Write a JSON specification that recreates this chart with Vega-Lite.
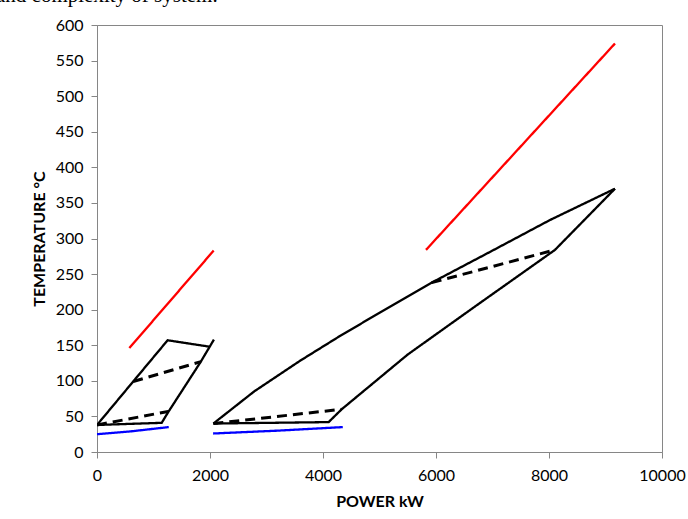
{
  "$schema": "https://vega.github.io/schema/vega-lite/v6.json",
  "autosize": "none",
  "width": 565,
  "height": 427,
  "padding": {"left": 97, "top": 25, "right": 26, "bottom": 67},
  "background": "white",
  "title": {
    "text": "and complexity of system.",
    "font": "Liberation Serif",
    "fontSize": 21,
    "fontWeight": "normal",
    "color": "#000000",
    "anchor": "start",
    "frame": "group",
    "dx": -101,
    "offset": 11
  },
  "data": {
    "values": [
      {"series": "hot_s", "stream": "composite", "kind": "curve", "o": 1, "x": 0, "y": 38},
      {"series": "hot_s", "stream": "composite", "kind": "curve", "o": 2, "x": 640, "y": 99},
      {"series": "hot_s", "stream": "composite", "kind": "curve", "o": 3, "x": 1250, "y": 157},
      {"series": "hot_s", "stream": "composite", "kind": "curve", "o": 4, "x": 1990, "y": 148},
      {"series": "cold_s", "stream": "composite", "kind": "curve", "o": 1, "x": 0, "y": 38},
      {"series": "cold_s", "stream": "composite", "kind": "curve", "o": 2, "x": 1145, "y": 41},
      {"series": "cold_s", "stream": "composite", "kind": "curve", "o": 3, "x": 1260, "y": 56},
      {"series": "cold_s", "stream": "composite", "kind": "curve", "o": 4, "x": 1830, "y": 126},
      {"series": "cold_s", "stream": "composite", "kind": "curve", "o": 5, "x": 2070, "y": 158},
      {"series": "dl_s", "stream": "composite", "kind": "approach", "o": 1, "x": 0, "y": 38},
      {"series": "dl_s", "stream": "composite", "kind": "approach", "o": 2, "x": 1260, "y": 57},
      {"series": "du_s", "stream": "composite", "kind": "approach", "o": 1, "x": 640, "y": 99},
      {"series": "du_s", "stream": "composite", "kind": "approach", "o": 2, "x": 1840, "y": 127},
      {"series": "red_s", "stream": "exhaust", "kind": "curve", "o": 1, "x": 572, "y": 146},
      {"series": "red_s", "stream": "exhaust", "kind": "curve", "o": 2, "x": 2065, "y": 283},
      {"series": "blue_s", "stream": "water", "kind": "curve", "o": 1, "x": 0, "y": 25},
      {"series": "blue_s", "stream": "water", "kind": "curve", "o": 2, "x": 600, "y": 29},
      {"series": "blue_s", "stream": "water", "kind": "curve", "o": 3, "x": 1270, "y": 35},
      {"series": "hot_l", "stream": "composite", "kind": "curve", "o": 1, "x": 2060, "y": 40},
      {"series": "hot_l", "stream": "composite", "kind": "curve", "o": 2, "x": 2780, "y": 85},
      {"series": "hot_l", "stream": "composite", "kind": "curve", "o": 3, "x": 3590, "y": 128},
      {"series": "hot_l", "stream": "composite", "kind": "curve", "o": 4, "x": 4300, "y": 163},
      {"series": "hot_l", "stream": "composite", "kind": "curve", "o": 5, "x": 5009, "y": 196},
      {"series": "hot_l", "stream": "composite", "kind": "curve", "o": 6, "x": 5924, "y": 238},
      {"series": "hot_l", "stream": "composite", "kind": "curve", "o": 7, "x": 7000, "y": 283},
      {"series": "hot_l", "stream": "composite", "kind": "curve", "o": 8, "x": 8018, "y": 326},
      {"series": "hot_l", "stream": "composite", "kind": "curve", "o": 9, "x": 9168, "y": 370},
      {"series": "cold_l", "stream": "composite", "kind": "curve", "o": 1, "x": 2060, "y": 40},
      {"series": "cold_l", "stream": "composite", "kind": "curve", "o": 2, "x": 4100, "y": 42},
      {"series": "cold_l", "stream": "composite", "kind": "curve", "o": 3, "x": 4330, "y": 60},
      {"series": "cold_l", "stream": "composite", "kind": "curve", "o": 4, "x": 5500, "y": 137},
      {"series": "cold_l", "stream": "composite", "kind": "curve", "o": 5, "x": 6700, "y": 205},
      {"series": "cold_l", "stream": "composite", "kind": "curve", "o": 6, "x": 8106, "y": 284},
      {"series": "cold_l", "stream": "composite", "kind": "curve", "o": 7, "x": 9168, "y": 370},
      {"series": "dl_l", "stream": "composite", "kind": "approach", "o": 1, "x": 2060, "y": 40},
      {"series": "dl_l", "stream": "composite", "kind": "approach", "o": 2, "x": 4330, "y": 60},
      {"series": "du_l", "stream": "composite", "kind": "approach", "o": 1, "x": 5924, "y": 238},
      {"series": "du_l", "stream": "composite", "kind": "approach", "o": 2, "x": 8106, "y": 284},
      {"series": "red_l", "stream": "exhaust", "kind": "curve", "o": 1, "x": 5823, "y": 284},
      {"series": "red_l", "stream": "exhaust", "kind": "curve", "o": 2, "x": 9168, "y": 574},
      {"series": "blue_l", "stream": "water", "kind": "curve", "o": 1, "x": 2055, "y": 26},
      {"series": "blue_l", "stream": "water", "kind": "curve", "o": 2, "x": 3200, "y": 30},
      {"series": "blue_l", "stream": "water", "kind": "curve", "o": 3, "x": 4350, "y": 35}
    ]
  },
  "mark": {"type": "line", "strokeCap": "butt", "strokeJoin": "miter", "clip": true},
  "encoding": {
    "x": {
      "field": "x", "type": "quantitative",
      "scale": {"domain": [0, 10000], "nice": false},
      "axis": {"values": [0, 2000, 4000, 6000, 8000, 10000], "title": "POWER kW", "format": "d"}
    },
    "y": {
      "field": "y", "type": "quantitative",
      "scale": {"domain": [0, 600], "nice": false},
      "axis": {"values": [0, 50, 100, 150, 200, 250, 300, 350, 400, 450, 500, 550, 600], "title": "TEMPERATURE °C"}
    },
    "detail": {"field": "series"},
    "order": {"field": "o", "type": "quantitative"},
    "color": {
      "field": "stream", "type": "nominal",
      "scale": {"domain": ["composite", "exhaust", "water"], "range": ["#000000", "#FF0000", "#0000FF"]},
      "legend": null
    },
    "strokeDash": {
      "field": "kind", "type": "nominal",
      "scale": {"domain": ["curve", "approach"], "range": [[1, 0], [10, 6]]},
      "legend": null
    },
    "strokeWidth": {
      "field": "kind", "type": "nominal",
      "scale": {"domain": ["curve", "approach"], "range": [2.3, 3]},
      "legend": null
    }
  },
  "config": {
    "view": {"stroke": "#868686", "strokeWidth": 1},
    "axis": {
      "grid": false,
      "domainColor": "#868686",
      "tickColor": "#868686",
      "tickSize": 6,
      "labelFont": "Lato",
      "labelFontSize": 16,
      "labelColor": "#000000",
      "titleFont": "Lato",
      "titleFontSize": 16,
      "titleFontWeight": "bold",
      "titleColor": "#000000"
    },
    "axisX": {"labelPadding": 9, "titlePadding": 10, "labelFlush": false},
    "axisY": {"labelPadding": 8, "titlePadding": 8}
  }
}
